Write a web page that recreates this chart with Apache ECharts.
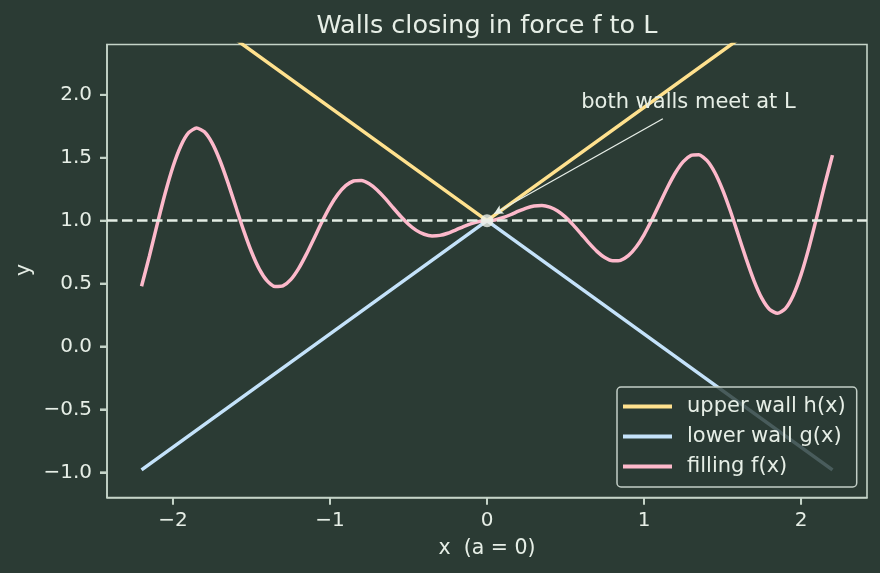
<!DOCTYPE html>
<html><head><meta charset="utf-8">
<script src="https://cdn.jsdelivr.net/npm/echarts@6/dist/echarts.min.js"></script>
<style>html,body{margin:0;padding:0;background:#2b3b34;}#c{width:880px;height:573px;}</style>
</head><body><div id="c"></div>
<script>
const titleText = 'Walls closing in force f to L';
const xName = 'x  (a = 0)';
const yName = 'y';
const xTicks = [-2, -1, 0, 1, 2];
const yTicks = [-1, -0.5, 0, 0.5, 1, 1.5, 2];
const xRange = [-2.42, 2.42];
const yRange = [-1.2, 2.4];
const wallX = [-2.2, 0, 2.2];
const upperWall = [2.98, 1, 2.98];
const lowerWall = [-0.98, 1, -0.98];
const limitPoint = [0, 1];
const fillX = [-2.2,-2.15,-2.1,-2.05,-2.0,-1.95,-1.9,-1.85,-1.8,-1.75,-1.7,-1.65,-1.6,-1.55,-1.5,-1.45,-1.4,-1.35,-1.3,-1.25,-1.2,-1.15,-1.1,-1.05,-1.0,-0.95,-0.9,-0.85,-0.8,-0.75,-0.7,-0.65,-0.6,-0.55,-0.5,-0.45,-0.4,-0.35,-0.3,-0.25,-0.2,-0.15,-0.1,-0.05,0,0.05,0.1,0.15,0.2,0.25,0.3,0.35,0.4,0.45,0.5,0.55,0.6,0.65,0.7,0.75,0.8,0.85,0.9,0.95,1.0,1.05,1.1,1.15,1.2,1.25,1.3,1.35,1.4,1.45,1.5,1.55,1.6,1.65,1.7,1.75,1.8,1.85,1.9,1.95,2.0,2.05,2.1,2.15,2.2];
const fillY = [0.479,0.718,0.972,1.216,1.429,1.594,1.699,1.736,1.706,1.616,1.476,1.302,1.112,0.923,0.753,0.615,0.521,0.476,0.481,0.531,0.619,0.734,0.863,0.993,1.112,1.209,1.278,1.315,1.319,1.293,1.244,1.179,1.106,1.035,0.972,0.923,0.892,0.879,0.883,0.900,0.925,0.953,0.977,0.994,1.000,1.006,1.023,1.047,1.075,1.100,1.117,1.121,1.108,1.077,1.028,0.965,0.894,0.821,0.756,0.707,0.681,0.685,0.722,0.791,0.888,1.007,1.137,1.266,1.381,1.469,1.519,1.524,1.479,1.385,1.247,1.077,0.888,0.698,0.524,0.384,0.294,0.264,0.301,0.406,0.571,0.784,1.028,1.282,1.521];
const seriesNames = ['upper wall h(x)', 'lower wall g(x)', 'filling f(x)'];
const annotationText = 'both walls meet at L';
const annotationAt = [0.6, 1.94];
const arrowFrom = [1.12, 1.81];
const arrowTo = [0.045, 1.055];

const FONT = 'DejaVu Sans';
const TXT = '#e6eee6';
const SPINE = '#c5d4c8';
const BG = '#2b3b34';
const TICK_LEN = 7;
const fmt = (v, d) => (v < 0 ? '\u2212' : '') + Math.abs(v).toFixed(d);

const chart = echarts.init(document.getElementById('c'), null, {renderer: 'canvas'});
const option = {
  backgroundColor: BG,
  animation: false,
  textStyle: {fontFamily: FONT},
  title: {
    text: titleText, left: 487, top: 13, textAlign: 'center', padding: 0,
    textStyle: {fontFamily: FONT, fontSize: 25.5, fontWeight: 'normal', color: TXT}
  },
  grid: {left: 107, right: 13, top: 44.5, bottom: 75.5, show: true, borderColor: SPINE, borderWidth: 1.6, backgroundColor: 'transparent'},
  xAxis: {
    type: 'value', min: xRange[0], max: xRange[1],
    splitLine: {show: false},
    axisLine: {show: true, onZero: false, lineStyle: {color: SPINE, width: 1.6}},
    axisTick: {show: true, customValues: xTicks, length: TICK_LEN, lineStyle: {color: SPINE, width: 2}},
    axisLabel: {customValues: xTicks, formatter: v => fmt(v, 0), color: TXT, fontSize: 20, fontFamily: FONT, margin: 13.5}
  },
  yAxis: {
    type: 'value', min: yRange[0], max: yRange[1],
    splitLine: {show: false},
    axisLine: {show: true, onZero: false, lineStyle: {color: SPINE, width: 1.6}},
    axisTick: {show: true, customValues: yTicks, length: TICK_LEN, lineStyle: {color: SPINE, width: 2}},
    axisLabel: {customValues: yTicks, formatter: v => fmt(v, 1), color: TXT, fontSize: 20, fontFamily: FONT, margin: 15, padding: [4, 0, 0, 0]}
  },
  legend: {
    orient: 'vertical', left: 617, top: 387,
    padding: [9, 11, 10, 6],
    itemWidth: 49, itemHeight: 4, itemGap: 9, icon: 'rect',
    backgroundColor: 'rgba(43,59,52,0.8)', borderColor: '#c2cec6', borderWidth: 1.5, borderRadius: 4,
    textStyle: {color: TXT, fontSize: 21, fontFamily: FONT, padding: [0, 0, 0, 10]},
    data: seriesNames
  },
  series: [
    {name: seriesNames[0], type: 'line', data: wallX.map((x, i) => [x, upperWall[i]]), symbol: 'none', color: '#ffe18e', lineStyle: {width: 3.5}, z: 2, clip: true},
    {name: seriesNames[1], type: 'line', data: wallX.map((x, i) => [x, lowerWall[i]]), symbol: 'none', color: '#c4e2fa', lineStyle: {width: 3.5}, z: 2, clip: true},
    {name: seriesNames[2], type: 'line', data: fillX.map((x, i) => [x, fillY[i]]), symbol: 'none', smooth: 0.2, color: '#fdb9cb', lineStyle: {width: 3.5}, z: 3, clip: true},
    {
      name: 'limit', type: 'scatter', data: [limitPoint], symbolSize: 13, itemStyle: {color: '#eef1ea'}, z: 6, silent: true,
      markLine: {
        silent: true, symbol: 'none', label: {show: false}, z: 4,
        data: [
          {yAxis: limitPoint[1], lineStyle: {type: [10.5, 4.5], color: '#e4ede4', width: 2.5}},
          [
            {coord: arrowFrom, symbol: 'none', lineStyle: {type: 'solid', color: '#e8efe8', width: 1.3}},
            {coord: arrowTo, symbol: 'arrow', symbolSize: [7, 9]}
          ]
        ]
      }
    }
  ]
};
chart.setOption(option);
const toPx = (pt) => chart.convertToPixel({gridIndex: 0}, pt);
const p = toPx(annotationAt);
const tickGraphics = [];
xTicks.forEach(v => {
  const q = toPx([v, yRange[0]]);
  tickGraphics.push({type: 'line', silent: true, shape: {x1: q[0], y1: q[1], x2: q[0], y2: q[1] + TICK_LEN}, style: {stroke: SPINE, lineWidth: 2}, z: 5});
});
yTicks.forEach(v => {
  const q = toPx([xRange[0], v]);
  tickGraphics.push({type: 'line', silent: true, shape: {x1: q[0], y1: q[1], x2: q[0] - TICK_LEN, y2: q[1]}, style: {stroke: SPINE, lineWidth: 2}, z: 5});
});
chart.setOption({
  graphic: [
    {type: 'text', x: p[0], y: p[1], style: {text: annotationText, fill: TXT, font: '21px "DejaVu Sans"', textAlign: 'left', textVerticalAlign: 'middle'}, z: 10},
    {type: 'text', x: 487, y: 549, style: {text: xName, fill: TXT, font: '20.5px "DejaVu Sans"', textAlign: 'center', textVerticalAlign: 'middle'}},
    {type: 'text', x: 25, y: 270, rotation: Math.PI / 2, style: {text: yName, fill: TXT, font: '20.5px "DejaVu Sans"', textAlign: 'center', textVerticalAlign: 'middle'}}
  ].concat(tickGraphics)
});
</script></body></html>
